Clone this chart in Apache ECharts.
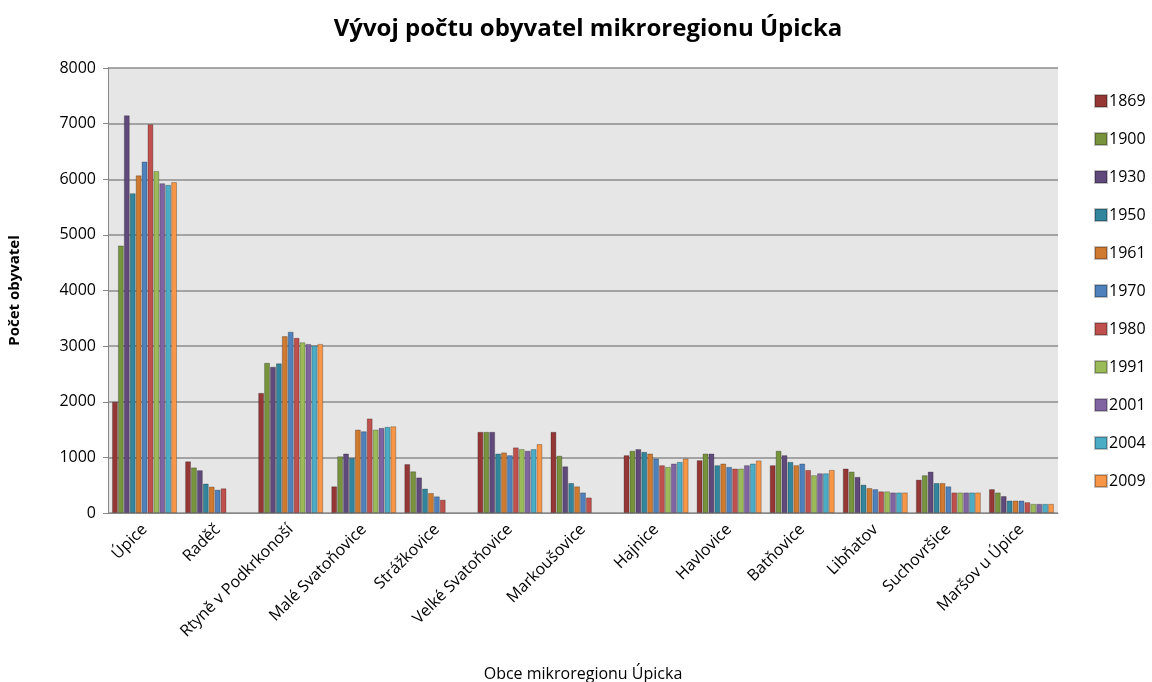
<!DOCTYPE html>
<html>
<head>
<meta charset="utf-8">
<script src="https://cdn.jsdelivr.net/npm/echarts@6/dist/echarts.min.js"></script>
<style>
  html, body { margin: 0; padding: 0; background: #fff; }
  #chart { width: 1152px; height: 682px; }
</style>
</head>
<body>
<div id="chart"></div>
<script>
// obce mikroregionu
const obce = ['Úpice', 'Raděč', 'Rtyně v Podkrkonoší', 'Malé Svatoňovice', 'Strážkovice',
    'Velké Svatoňovice', 'Markoušovice', 'Hajnice', 'Havlovice', 'Batňovice', 'Libňatov',
    'Suchovršice', 'Maršov u Úpice'];

const roky = ['1869', '1900', '1930', '1950', '1961', '1970', '1980', '1991', '2001', '2004', '2009'];

// počty obyvatel po letech (pořadí obcí viz výše)
const r1869 = [2000, 930, 2160, 480, 880, 1460, 1460, 1040, 950, 860, 800, 600, 430];
const r1900 = [4810, 820, 2700, 1020, 750, 1460, 1030, 1120, 1070, 1120, 745, 680, 370];
const r1930 = [7150, 770, 2630, 1070, 640, 1460, 840, 1150, 1070, 1040, 650, 745, 305];
const r1950 = [5750, 530, 2690, 990, 440, 1070, 540, 1100, 860, 920, 510, 540, 225];
const r1961 = [6070, 475, 3180, 1500, 360, 1090, 480, 1070, 890, 860, 450, 540, 225];
const r1970 = [6320, 420, 3260, 1470, 300, 1040, 370, 980, 830, 890, 430, 480, 225];
const r1980 = [6990, 445, 3150, 1700, 240, 1180, 280, 860, 800, 775, 390, 370, 195];
const r1991 = [6150, null, 3070, 1500, null, 1150, null, 830, 800, 680, 390, 370, 165];
const r2001 = [5930, null, 3040, 1530, null, 1120, null, 890, 860, 715, 370, 370, 165];
const r2004 = [5900, null, 3010, 1550, null, 1150, null, 920, 890, 715, 370, 370, 165];
const r2009 = [5950, null, 3040, 1560, null, 1240, null, 980, 945, 775, 370, 370, 165];

const hodnoty = [r1869, r1900, r1930, r1950, r1961, r1970, r1980, r1991, r2001, r2004, r2009];

const barvy = ['#953735', '#77933c', '#604a7b', '#31859c', '#d07a30', '#4f81bd',
    '#c0504d', '#9bbb59', '#8064a2', '#4bacc6', '#f79646'];

const font = '"Open Sans", sans-serif';

const chart = echarts.init(document.getElementById('chart'));

const option = {
    animation: false,
    backgroundColor: '#fff',
    title: {
        text: 'Vývoj počtu obyvatel mikroregionu Úpicka',
        left: 583,
        textAlign: 'center',
        top: 12,
        textStyle: {
            fontFamily: font,
            fontSize: 24,
            fontWeight: 'bold',
            color: '#000'
        }
    },
    legend: {
        orient: 'vertical',
        left: 1089,
        top: 88,
        itemWidth: 12,
        itemHeight: 12,
        itemGap: 22,
        icon: 'rect',
        data: roky,
        textStyle: {
            fontFamily: font,
            fontSize: 16,
            color: '#000',
            lineHeight: 16,
            padding: [0, 0, 0, -3]
        }
    },
    grid: {
        left: 108,
        right: 94,
        top: 68,
        bottom: 169,
        outerBoundsMode: 'none',
        show: true,
        backgroundColor: '#e6e6e6',
        borderWidth: 0
    },
    xAxis: {
        type: 'category',
        data: obce,
        name: 'Obce mikroregionu Úpicka',
        nameLocation: 'middle',
        nameGap: 153,
        nameTextStyle: {
            fontFamily: font,
            fontSize: 16,
            color: '#000'
        },
        axisLine: { lineStyle: { color: '#888' } },
        axisTick: { show: false },
        axisLabel: {
            rotate: 45,
            interval: 0,
            margin: 14,
            fontFamily: font,
            fontSize: 16,
            color: '#000'
        }
    },
    yAxis: {
        type: 'value',
        min: 0,
        max: 8000,
        interval: 1000,
        name: 'Počet obyvatel',
        nameLocation: 'middle',
        nameGap: 86,
        nameTextStyle: {
            fontFamily: font,
            fontSize: 15,
            fontWeight: 'bold',
            color: '#000'
        },
        axisLine: { show: true, lineStyle: { color: '#888' } },
        axisTick: { show: true, length: 5, lineStyle: { color: '#888' } },
        splitLine: { lineStyle: { color: '#8c8c8c', width: 1.5 } },
        axisLabel: {
            margin: 12,
            fontFamily: font,
            fontSize: 16,
            color: '#000',
            formatter: v => String(v)
        }
    },
    series: roky.map((rok, i) => ({
        name: rok,
        type: 'bar',
        data: hodnoty[i],
        barGap: '0%',
        barCategoryGap: '11%',
        itemStyle: {
            color: barvy[i],
            borderColor: 'rgba(0,0,0,0.25)',
            borderWidth: 1
        }
    }))
};

chart.setOption(option);
</script>
</body>
</html>
